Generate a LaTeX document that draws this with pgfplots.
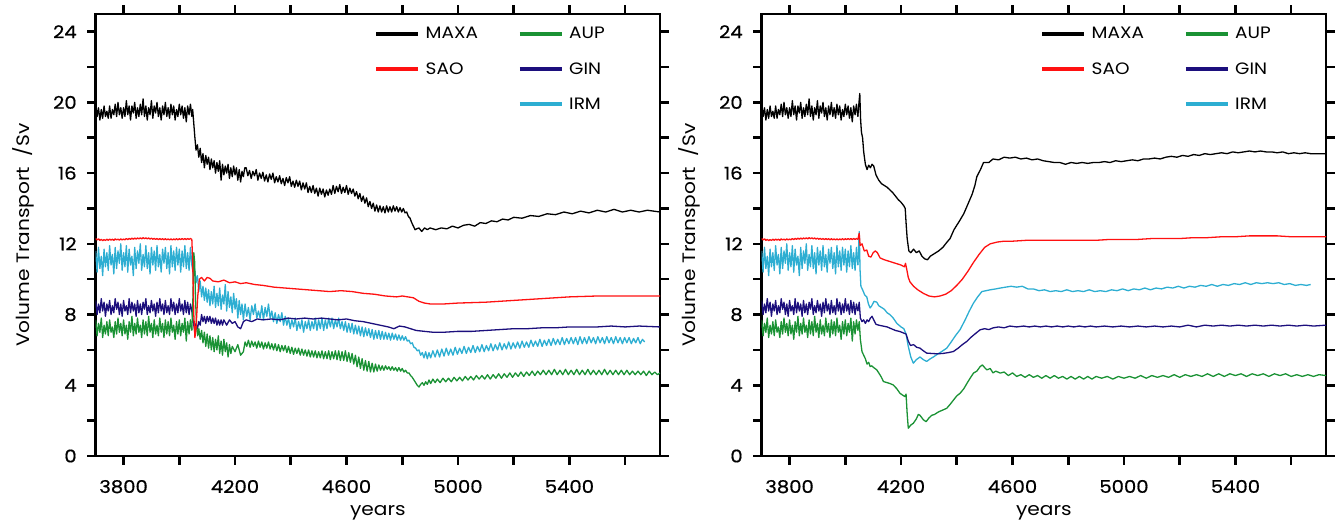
\documentclass[border=0pt]{standalone}
\usepackage{fontspec}
\setmainfont{Poppins}[FakeStretch=1.12]
\newfontfamily\tickfont{Poppins}[FakeStretch=1.12, FakeBold=0.6]
\usepackage{pgfplots}
\usepackage{pgfplotstable}
\pgfplotsset{compat=1.18}
\definecolor{cmaxa}{RGB}{0,0,0}
\definecolor{csao}{RGB}{255,17,17}
\definecolor{caup}{RGB}{26,146,52}
\definecolor{cgin}{RGB}{28,15,125}
\definecolor{cirm}{RGB}{45,174,210}

% common control period (identical in both panels)
\pgfplotstableread{
year maxa sao irm gin aup
3700 19.9 12.30 11.6 8.8 7.7
3705 19.2 12.22 10.4 8.0 6.8
3710 19.7 12.28 11.8 8.6 7.5
3715 19.0 12.20 10.6 8.1 7.0
3720 19.6 12.25 11.3 8.9 7.8
3725 19.1 12.18 10.2 8.2 6.7
3730 19.8 12.24 11.7 8.7 7.4
3735 19.2 12.19 10.7 7.9 6.9
3740 19.5 12.26 11.5 8.6 7.6
3745 19.1 12.20 10.5 8.2 6.8
3750 19.8 12.27 11.9 8.8 7.7
3755 19.1 12.21 10.8 8.0 7.0
3760 19.6 12.26 11.4 8.5 7.3
3765 19.3 12.20 10.3 8.1 6.7
3770 19.9 12.28 11.8 8.9 7.6
3775 19.2 12.22 10.6 8.3 6.9
3780 20.0 12.27 11.6 8.7 7.8
3785 19.3 12.21 10.9 8.0 7.0
3790 19.7 12.28 12.0 8.6 7.5
3795 19.1 12.22 10.5 7.9 6.8
3800 19.7 12.27 11.5 8.8 7.7
3805 19.2 12.23 10.7 8.2 6.9
3810 20.1 12.30 11.9 8.5 7.4
3815 19.3 12.24 10.4 8.0 6.6
3820 19.8 12.31 11.7 8.9 7.6
3825 19.0 12.25 10.8 8.1 7.0
3830 19.8 12.32 11.3 8.7 7.9
3835 19.4 12.26 10.2 8.2 6.8
3840 20.0 12.33 11.8 8.6 7.5
3845 19.1 12.27 10.6 7.9 6.9
3850 19.7 12.33 11.6 8.8 7.8
3855 19.2 12.28 10.9 8.1 7.0
3860 19.9 12.34 12.0 8.6 7.4
3865 19.3 12.28 10.5 8.0 6.7
3870 20.2 12.35 11.4 8.7 7.7
3875 19.2 12.29 10.7 8.3 6.9
3880 19.8 12.34 11.9 8.9 7.6
3885 19.0 12.28 10.6 8.0 6.8
3890 19.7 12.33 11.5 8.5 7.9
3895 19.3 12.27 10.3 8.1 7.0
3900 20.1 12.32 11.8 8.8 7.5
3905 19.1 12.26 10.8 8.2 6.7
3910 19.8 12.31 11.6 8.6 7.7
3915 19.4 12.25 10.5 7.9 6.9
3920 20.0 12.30 11.9 8.7 7.4
3925 19.2 12.24 10.7 8.1 6.8
3930 19.7 12.30 11.4 8.9 7.8
3935 19.0 12.24 10.4 8.2 7.0
3940 19.8 12.29 11.7 8.6 7.5
3945 19.3 12.23 10.9 8.0 6.7
3950 20.0 12.29 11.8 8.8 7.7
3955 19.2 12.23 10.6 8.1 6.9
3960 19.7 12.28 11.5 8.5 7.6
3965 19.1 12.22 10.3 8.0 6.8
3970 19.9 12.28 11.9 8.9 7.8
3975 19.3 12.22 10.7 8.2 7.0
3980 19.8 12.28 11.6 8.7 7.4
3985 19.0 12.23 10.5 8.0 6.6
3990 19.6 12.29 11.8 8.6 7.6
3995 19.2 12.23 10.8 8.1 6.9
4000 19.9 12.29 11.7 8.9 7.7
4005 19.3 12.24 10.4 8.2 6.8
4010 19.8 12.30 11.6 8.6 7.5
4015 19.1 12.24 10.7 8.0 7.0
4020 19.7 12.30 11.9 8.8 7.8
4025 18.9 12.24 10.6 8.1 6.5
4030 19.8 12.30 11.5 8.7 7.6
4035 19.3 12.25 10.5 8.0 6.9
4040 19.9 12.30 11.8 8.6 7.7
4045 19.2 12.25 10.8 8.2 7.1
}\pre

% ---------------- left panel, after 4045 ----------------
\pgfplotstableread{
x y
4045 19.2
4048 19.6
4052 18.8
4056 18.0
4060 17.3
4065 17.6
4070 16.9
4075 17.4
4080 16.6
4085 17.1
4090 16.3
4095 17.0
4100 16.5
4105 16.9
4110 16.2
4115 16.8
4120 16.3
4125 16.7
4130 16.0
4135 16.6
4140 16.1
4145 16.7
4150 15.6
4155 16.5
4160 15.9
4165 16.4
4170 16.0
4175 16.5
4180 15.7
4185 16.3
4190 15.8
4195 16.4
4200 15.9
4205 16.3
4210 15.6
4215 16.2
4220 15.5
4225 16.1
4230 15.8
4235 16.3
4240 16.3
4246 15.85
4252 16.15
4258 15.7
4264 16.1
4270 15.85
4276 16.2
4282 15.6
4288 16.0
4294 15.7
4300 16.05
4306 15.55
4312 15.9
4318 15.5
4324 15.95
4330 15.65
4336 16.0
4342 15.45
4348 15.8
4354 15.5
4360 15.85
4366 15.4
4372 15.7
4378 15.3
4384 15.75
4390 15.45
4396 15.8
4402 15.25
4408 15.55
4414 15.2
4420 15.6
4426 15.25
4432 15.55
4438 15.05
4444 15.45
4450 15.1
4456 15.45
4462 14.9
4468 15.25
4474 14.9
4480 15.3
4486 14.85
4492 15.15
4498 14.7
4504 15.15
4510 14.8
4516 15.1
4522 14.65
4528 15.05
4534 14.75
4540 15.1
4546 14.8
4552 15.3
4558 14.85
4564 15.25
4570 14.95
4576 15.35
4582 14.85
4588 15.2
4594 14.9
4600 15.3
4606 14.8
4612 15.15
4618 14.85
4624 15.1
4630 14.7
4636 14.95
4642 14.55
4648 14.85
4654 14.4
4660 14.7
4666 14.3
4672 14.6
4678 14.1
4684 14.4
4690 14.0
4696 14.3
4702 13.85
4708 14.2
4714 13.8
4720 14.15
4726 13.8
4732 14.1
4738 13.75
4744 14.15
4750 13.8
4756 14.1
4762 13.8
4768 14.15
4774 13.85
4780 14.1
4786 13.8
4792 14.05
4798 13.8
4804 14.0
4810 13.75
4816 13.8
4822 13.55
4828 13.45
4834 13.2
4840 13.0
4846 12.8
4852 12.85
4860 12.9
4870 12.7
4880 12.9
4890 12.8
4900 12.9
4920 12.8
4940 12.9
4960 12.85
4980 13.0
5000 12.9
5020 13.05
5040 13.1
5060 13.0
5080 13.2
5100 13.15
5120 13.3
5140 13.25
5160 13.4
5180 13.35
5200 13.5
5230 13.45
5260 13.6
5290 13.55
5320 13.7
5350 13.65
5380 13.8
5410 13.7
5440 13.85
5470 13.75
5500 13.9
5530 13.8
5560 13.95
5590 13.8
5620 13.9
5650 13.8
5680 13.9
5725 13.8
}\LmaxA

\pgfplotstableread{
x y
4045 12.25
4048 11.0
4052 8.0
4056 6.7
4060 7.2
4066 9.0
4072 10.0
4080 10.1
4090 9.9
4100 10.1
4110 10.05
4120 9.9
4140 9.85
4160 9.95
4180 9.8
4200 9.85
4220 9.75
4240 9.8
4270 9.7
4300 9.65
4340 9.55
4380 9.5
4420 9.45
4460 9.4
4500 9.35
4540 9.3
4580 9.35
4620 9.3
4660 9.2
4700 9.15
4740 9.05
4780 9.0
4800 9.05
4820 9.0
4840 8.95
4860 8.75
4880 8.65
4900 8.6
4950 8.6
5000 8.65
5100 8.7
5200 8.8
5300 8.9
5400 9.0
5500 9.05
5600 9.05
5725 9.05
}\LsaO

\pgfplotstableread{
x y
4045 10.8
4050 10.3
4055 10.6
4060 9.8
4065 10.2
4070 9.3
4075 9.9
4080 9.0
4085 9.6
4090 8.8
4095 9.5
4100 8.7
4105 9.4
4110 8.5
4115 9.3
4120 8.6
4125 9.6
4130 8.4
4135 9.2
4140 8.5
4145 9.5
4150 8.3
4155 9.1
4160 8.6
4165 9.7
4170 8.2
4175 9.3
4180 8.4
4185 9.0
4190 8.1
4195 9.2
4200 8.3
4205 8.9
4210 7.8
4215 8.8
4220 8.0
4225 8.6
4230 7.7
4236 8.6
4242 7.9
4248 8.4
4254 7.7
4260 8.5
4266 8.0
4272 8.6
4278 7.8
4284 8.2
4290 7.8
4296 8.5
4302 7.7
4308 8.4
4314 7.9
4320 8.6
4326 7.8
4332 8.2
4338 7.6
4344 8.1
4350 7.5
4356 8.0
4362 7.6
4368 8.1
4374 7.4
4380 7.9
4386 7.4
4392 7.8
4398 7.2
4404 7.7
4410 7.3
4416 7.8
4422 7.1
4428 7.6
4434 7.2
4440 7.7
4446 7.0
4452 7.6
4458 7.2
4464 7.7
4470 7.1
4476 7.6
4482 7.2
4488 7.8
4494 7.1
4500 7.7
4506 7.2
4512 7.8
4518 7.1
4524 7.7
4530 7.2
4536 7.8
4542 7.3
4548 7.8
4554 7.2
4560 7.7
4566 7.3
4572 7.8
4578 7.2
4584 7.6
4590 7.1
4596 7.6
4602 7.0
4608 7.5
4614 7.0
4620 7.5
4626 6.9
4632 7.4
4638 6.9
4644 7.35
4650 6.8
4656 7.3
4662 6.75
4668 7.25
4674 6.8
4680 7.2
4686 6.7
4692 7.15
4698 6.6
4704 7.1
4710 6.65
4716 7.1
4722 6.6
4728 7.05
4734 6.6
4740 7.0
4746 6.6
4752 6.95
4758 6.55
4764 6.95
4770 6.6
4776 6.9
4782 6.55
4788 6.85
4794 6.55
4800 6.8
4806 6.55
4812 6.75
4818 6.5
4824 6.55
4830 6.35
4836 6.4
4842 6.15
4848 6.1
4854 5.95
4860 6.0
4866 5.7
4872 5.85
4878 5.55
4884 5.9
4890 5.5
4896 5.85
4902 5.55
4910 5.95
4918 5.6
4926 6.0
4934 5.6
4942 6.05
4950 5.65
4958 6.1
4966 5.7
4974 6.05
4982 5.7
4990 6.15
4998 5.75
5006 6.1
5014 5.8
5022 6.2
5030 5.8
5038 6.15
5046 5.85
5054 6.25
5062 5.85
5070 6.2
5078 5.9
5086 6.3
5094 5.9
5102 6.25
5110 5.95
5118 6.35
5126 5.95
5134 6.3
5142 6.0
5150 6.4
5158 6.0
5166 6.35
5174 6.05
5182 6.45
5190 6.05
5198 6.4
5206 6.1
5214 6.45
5222 6.1
5230 6.5
5238 6.15
5246 6.45
5254 6.15
5262 6.55
5270 6.2
5278 6.5
5286 6.2
5294 6.6
5302 6.2
5310 6.55
5318 6.25
5326 6.6
5334 6.25
5342 6.65
5350 6.3
5358 6.6
5366 6.3
5374 6.7
5382 6.3
5390 6.65
5398 6.35
5406 6.7
5414 6.35
5422 6.7
5430 6.3
5438 6.75
5446 6.35
5454 6.7
5462 6.35
5470 6.75
5478 6.4
5486 6.7
5494 6.35
5502 6.75
5510 6.4
5518 6.7
5526 6.35
5534 6.75
5542 6.4
5550 6.7
5558 6.35
5566 6.75
5574 6.4
5582 6.7
5590 6.35
5598 6.7
5606 6.4
5614 6.7
5622 6.35
5630 6.65
5638 6.4
5646 6.7
5654 6.35
5662 6.6
5670 6.45
}\LirM

\pgfplotstableread{
x y
4045 8.2
4050 7.6
4055 7.1
4060 7.5
4065 7.2
4070 7.6
4075 7.4
4080 8.0
4085 7.6
4090 7.9
4095 7.5
4100 7.9
4105 7.6
4110 7.9
4115 7.5
4120 7.8
4125 7.5
4130 7.8
4135 7.4
4140 7.7
4145 7.4
4150 7.7
4155 7.4
4160 7.7
4170 7.4
4180 7.7
4190 7.5
4200 7.6
4210 7.3
4220 7.2
4230 7.6
4240 7.7
4260 7.6
4280 7.75
4300 7.7
4330 7.75
4360 7.7
4390 7.8
4420 7.75
4450 7.8
4480 7.75
4510 7.8
4540 7.75
4570 7.7
4600 7.75
4630 7.65
4660 7.6
4690 7.5
4720 7.4
4750 7.3
4770 7.2
4790 7.35
4810 7.3
4830 7.2
4850 7.1
4880 7.05
4910 7.0
4950 7.0
5000 7.05
5050 7.05
5100 7.1
5150 7.15
5200 7.2
5250 7.2
5300 7.25
5350 7.25
5400 7.3
5450 7.3
5500 7.3
5550 7.35
5600 7.3
5650 7.35
5725 7.3
}\LgiN

\pgfplotstableread{
x y
4045 7.1
4049 9.0
4052 11.5
4055 11.0
4058 9.0
4062 7.3
4066 6.8
4070 7.2
4075 6.6
4080 7.1
4085 6.4
4090 7.0
4095 6.2
4100 6.9
4105 6.1
4110 6.8
4115 6.0
4120 6.7
4125 5.9
4130 6.6
4135 6.0
4140 6.8
4145 5.8
4150 6.5
4155 5.7
4160 6.6
4165 5.9
4170 6.4
4175 5.6
4180 6.3
4185 5.8
4190 6.2
4200 5.9
4210 6.3
4220 5.7
4230 5.9
4236 6.45
4242 6.2
4248 6.55
4254 6.15
4260 6.5
4266 6.2
4272 6.45
4278 6.1
4284 6.5
4290 6.15
4296 6.45
4302 6.05
4308 6.4
4314 6.1
4320 6.45
4326 6.05
4332 6.35
4338 6.0
4344 6.35
4350 5.95
4356 6.3
4362 5.9
4368 6.25
4374 5.95
4380 6.25
4386 5.85
4392 6.2
4398 5.8
4404 6.15
4410 5.75
4416 6.1
4422 5.8
4428 6.1
4434 5.7
4440 6.05
4446 5.7
4452 6.0
4458 5.65
4464 6.0
4470 5.6
4476 5.95
4482 5.6
4488 5.95
4494 5.55
4500 5.9
4506 5.55
4512 5.95
4518 5.5
4524 5.9
4530 5.5
4536 5.95
4542 5.45
4548 5.9
4554 5.5
4560 5.95
4566 5.45
4572 5.95
4578 5.4
4584 5.9
4590 5.4
4596 5.95
4602 5.35
4608 5.85
4614 5.3
4620 5.8
4626 5.2
4632 5.7
4638 5.05
4644 5.6
4650 4.95
4656 5.5
4662 4.85
4668 5.4
4674 4.8
4680 5.35
4686 4.75
4692 5.25
4698 4.75
4704 5.2
4710 4.8
4716 5.15
4722 4.85
4728 5.1
4734 4.85
4740 5.1
4746 4.9
4752 5.05
4758 4.85
4764 5.05
4770 4.85
4776 5.0
4782 4.8
4788 5.0
4794 4.8
4800 4.95
4806 4.75
4812 4.85
4818 4.7
4824 4.7
4830 4.55
4836 4.45
4842 4.3
4848 4.15
4854 4.0
4860 3.9
4866 4.05
4872 4.15
4878 4.0
4884 4.2
4890 4.05
4896 4.3
4902 4.1
4910 4.35
4918 4.15
4926 4.35
4936 4.15
4946 4.4
4956 4.2
4966 4.4
4976 4.2
4986 4.45
4996 4.25
5006 4.45
5016 4.25
5026 4.5
5036 4.3
5046 4.5
5056 4.3
5066 4.55
5076 4.35
5086 4.55
5096 4.35
5106 4.6
5116 4.35
5126 4.6
5136 4.4
5146 4.65
5156 4.4
5166 4.65
5176 4.45
5186 4.7
5196 4.45
5206 4.7
5216 4.5
5226 4.75
5236 4.5
5246 4.75
5256 4.55
5266 4.8
5276 4.55
5286 4.8
5296 4.6
5306 4.85
5316 4.6
5326 4.85
5336 4.6
5346 4.9
5356 4.6
5366 4.85
5376 4.6
5386 4.9
5396 4.6
5406 4.85
5416 4.6
5426 4.9
5436 4.6
5446 4.85
5456 4.6
5466 4.9
5476 4.6
5486 4.85
5496 4.6
5506 4.85
5516 4.6
5526 4.9
5536 4.6
5546 4.85
5556 4.6
5566 4.85
5576 4.6
5586 4.85
5596 4.6
5606 4.85
5616 4.6
5626 4.8
5636 4.6
5646 4.8
5656 4.6
5666 4.8
5676 4.55
5686 4.8
5696 4.6
5706 4.75
5716 4.6
5725 4.7
}\LauP

% ---------------- right panel, after 4045 ----------------
\pgfplotstableread{
x y
4045 19.2
4048 19.8
4052 20.5
4055 19.0
4058 18.3
4062 18.0
4066 17.2
4072 16.5
4078 16.2
4084 16.45
4090 16.3
4096 16.5
4102 16.4
4110 15.9
4120 15.6
4130 15.4
4140 15.3
4150 15.2
4160 15.05
4170 14.9
4180 14.7
4190 14.5
4200 14.35
4210 14.15
4215 14.0
4218 13.2
4222 12.3
4228 11.6
4235 11.5
4245 11.7
4255 11.5
4265 11.6
4275 11.3
4285 11.15
4295 11.1
4305 11.3
4315 11.4
4325 11.5
4335 11.6
4350 11.8
4365 12.1
4376 12.3
4390 12.8
4410 13.3
4425 13.7
4436 14.1
4455 14.8
4465 15.3
4472 15.8
4485 16.2
4496 16.6
4515 16.6
4530 16.8
4550 16.75
4570 16.9
4590 16.85
4610 16.9
4630 16.8
4650 16.85
4670 16.75
4690 16.8
4710 16.7
4730 16.65
4750 16.6
4770 16.6
4790 16.5
4810 16.6
4830 16.55
4850 16.6
4870 16.55
4890 16.6
4910 16.6
4930 16.65
4950 16.6
4970 16.7
4990 16.65
5010 16.7
5030 16.75
5050 16.7
5070 16.8
5090 16.8
5110 16.85
5130 16.8
5150 16.9
5170 16.95
5190 16.9
5210 17.0
5230 16.95
5250 17.05
5270 17.0
5290 17.1
5310 17.05
5330 17.1
5350 17.15
5370 17.1
5390 17.2
5410 17.15
5430 17.2
5450 17.25
5470 17.2
5490 17.25
5510 17.2
5530 17.2
5550 17.15
5570 17.2
5590 17.1
5610 17.15
5630 17.1
5650 17.15
5670 17.1
5690 17.1
5725 17.1
}\RmaxA

\pgfplotstableread{
x y
4045 12.25
4050 12.6
4053 11.9
4060 12.0
4068 11.6
4077 11.65
4084 11.3
4092 11.25
4100 11.5
4108 11.6
4115 11.5
4125 11.2
4140 11.1
4160 11.0
4180 10.9
4200 10.8
4212 10.7
4216 10.9
4220 10.6
4226 10.1
4232 9.85
4245 9.6
4260 9.4
4280 9.2
4300 9.05
4320 9.0
4340 9.05
4360 9.15
4380 9.35
4400 9.65
4420 10.0
4440 10.45
4460 10.95
4480 11.4
4500 11.8
4520 12.0
4545 12.1
4570 12.15
4600 12.15
4650 12.2
4700 12.2
4750 12.2
4800 12.2
4850 12.2
4900 12.2
4950 12.25
5000 12.25
5050 12.25
5100 12.3
5150 12.3
5200 12.3
5250 12.35
5300 12.35
5350 12.4
5400 12.4
5450 12.45
5500 12.45
5550 12.45
5600 12.4
5650 12.4
5725 12.4
}\RsaO

\pgfplotstableread{
x y
4045 10.8
4050 12.7
4053 10.5
4056 9.6
4062 9.4
4070 9.1
4077 9.0
4083 8.6
4089 8.37
4095 8.5
4103 8.75
4113 8.7
4120 8.5
4130 8.4
4140 8.3
4150 8.1
4160 8.0
4172 7.8
4185 7.5
4200 7.3
4210 7.2
4218 6.9
4226 6.2
4235 5.6
4244 5.25
4255 5.45
4268 5.6
4280 5.45
4292 5.35
4305 5.5
4316 5.6
4330 5.75
4345 5.9
4364 6.1
4380 6.45
4395 6.8
4412 7.15
4430 7.7
4445 8.2
4460 8.65
4475 9.0
4490 9.3
4505 9.35
4520 9.4
4540 9.45
4556 9.5
4575 9.55
4595 9.6
4615 9.55
4635 9.6
4655 9.45
4675 9.45
4695 9.35
4715 9.4
4735 9.3
4755 9.35
4775 9.3
4795 9.4
4815 9.3
4835 9.35
4855 9.3
4875 9.4
4895 9.3
4915 9.35
4935 9.3
4955 9.4
4975 9.35
4995 9.45
5015 9.35
5035 9.45
5055 9.4
5075 9.5
5095 9.4
5115 9.5
5135 9.45
5155 9.55
5175 9.5
5195 9.6
5215 9.5
5235 9.6
5255 9.55
5275 9.65
5295 9.6
5315 9.7
5335 9.6
5355 9.7
5375 9.65
5395 9.75
5415 9.7
5435 9.8
5455 9.7
5475 9.8
5495 9.75
5515 9.8
5535 9.75
5555 9.8
5575 9.7
5595 9.75
5615 9.65
5635 9.7
5655 9.65
5670 9.7
}\RirM

\pgfplotstableread{
x y
4045 8.2
4050 8.7
4054 7.8
4060 7.6
4066 7.7
4072 7.5
4078 7.7
4084 7.6
4090 7.8
4096 7.9
4102 7.7
4110 7.45
4120 7.4
4135 7.35
4150 7.3
4165 7.2
4180 7.1
4196 7.04
4210 6.95
4218 6.9
4226 6.5
4234 6.25
4245 6.3
4256 6.15
4268 6.1
4280 5.95
4292 5.82
4310 5.8
4330 5.78
4350 5.8
4370 5.85
4388 5.91
4405 6.1
4420 6.3
4436 6.48
4450 6.7
4465 6.9
4484 7.14
4500 7.2
4515 7.15
4531 7.25
4550 7.3
4570 7.25
4590 7.35
4615 7.3
4640 7.35
4660 7.3
4680 7.35
4700 7.3
4720 7.35
4740 7.3
4760 7.35
4780 7.3
4800 7.35
4820 7.3
4840 7.35
4860 7.3
4880 7.35
4900 7.3
4930 7.35
4960 7.3
4990 7.35
5020 7.3
5050 7.35
5080 7.3
5110 7.35
5140 7.3
5170 7.35
5200 7.3
5230 7.4
5260 7.3
5290 7.4
5320 7.35
5350 7.4
5380 7.35
5410 7.4
5440 7.35
5470 7.4
5500 7.35
5530 7.4
5560 7.35
5590 7.4
5620 7.35
5650 7.4
5680 7.35
5725 7.4
}\RgiN

\pgfplotstableread{
x y
4045 7.1
4050 7.6
4054 6.6
4060 5.9
4066 5.7
4072 5.5
4078 5.2
4084 5.3
4089 5.06
4095 5.1
4102 5.0
4113 4.87
4120 4.7
4128 4.5
4137 4.21
4150 4.15
4160 4.1
4172 4.02
4185 3.8
4196 3.55
4205 3.45
4214 3.36
4218 3.5
4222 2.4
4226 1.57
4235 1.75
4244 1.85
4255 2.1
4262 2.35
4268 2.3
4280 2.05
4290 1.94
4300 2.15
4310 2.3
4320 2.35
4335 2.5
4350 2.6
4364 2.7
4375 2.9
4390 3.2
4400 3.4
4412 3.55
4425 3.8
4440 4.2
4452 4.5
4460 4.69
4472 4.8
4484 5.06
4492 5.15
4500 5.0
4508 4.87
4520 4.95
4530 4.7
4540 4.8
4556 4.69
4570 4.75
4585 4.55
4600 4.7
4615 4.5
4630 4.6
4645 4.45
4660 4.6
4675 4.45
4690 4.55
4705 4.4
4720 4.55
4735 4.4
4750 4.55
4765 4.4
4780 4.5
4795 4.35
4810 4.5
4825 4.35
4840 4.5
4855 4.35
4870 4.5
4885 4.35
4900 4.5
4920 4.4
4940 4.5
4960 4.35
4980 4.5
5000 4.4
5020 4.5
5040 4.4
5060 4.55
5080 4.4
5100 4.55
5120 4.45
5140 4.55
5160 4.45
5180 4.6
5200 4.45
5220 4.6
5240 4.5
5260 4.6
5280 4.5
5300 4.65
5320 4.5
5340 4.65
5360 4.5
5380 4.65
5400 4.55
5420 4.65
5440 4.5
5460 4.65
5480 4.55
5500 4.65
5520 4.5
5540 4.65
5560 4.55
5580 4.65
5600 4.5
5620 4.6
5640 4.5
5660 4.6
5680 4.5
5700 4.6
5725 4.55
}\RauP

\pgfplotsset{
  panel/.style={
    scale only axis, width=564.3pt, height=442pt,
    anchor=south west,
    xmin=3700, xmax=5725, ymin=0, ymax=25,
    xtick={3800,4200,4600,5000,5400},
    minor xtick={4000,4400,4800,5200,5600},
    ytick={0,4,...,24},
    minor ytick={2,6,...,22},
    tick align=outside,
    major tick length=8.5pt, minor tick length=8.5pt,
    axis line style={line width=2.6pt},
    tick style={line width=2.6pt, black},
    /pgf/number format/assume math mode=true,
    /pgf/number format/set thousands separator={},
    tick label style={font=\tickfont\fontsize{17.5}{20}\selectfont},
    xticklabel style={yshift=-12pt},
    yticklabel style={xshift=-7pt},
    label style={font=\fontsize{18}{22}\selectfont},
    xlabel={years},
    ylabel={Volume Transport\ \ /Sv},
    x label style={at={(axis description cs:0.5,-0.129)}, anchor=center},
    y label style={at={(axis description cs:-0.1276,0.5)}, anchor=center},
    legend columns=2,
    legend cell align=left,
    legend style={draw=none, fill=none, at={(0.4932,0.97)}, anchor=north west,
      inner sep=0pt, row sep=22pt,
      nodes={inner sep=0pt, font=\fontsize{16.5}{20}\selectfont},
      /tikz/every odd column/.append style={column sep=5pt},
      /tikz/every even column/.append style={column sep=0pt}},
    legend image code/.code={\draw[line width=4.5pt] (0pt,0pt) -- (42pt,0pt);},
  },
  ser/.style={line width=1.3pt, line join=round, forget plot},
}

\begin{document}
\begin{tikzpicture}
\path[use as bounding box] (-95.7pt,-68pt) rectangle (1242.3pt,456pt);

\begin{axis}[panel, at={(0pt,0pt)}]
\addlegendimage{cmaxa}\addlegendentry{\makebox[92pt][l]{MAXA}}
\addlegendimage{caup}\addlegendentry{AUP}
\addlegendimage{csao}\addlegendentry{\makebox[92pt][l]{SAO}}
\addlegendimage{cgin}\addlegendentry{GIN}
\addlegendimage{empty legend}\addlegendentry{}
\addlegendimage{cirm}\addlegendentry{IRM}
\addplot[ser, cirm] table[x=year, y=irm] {\pre};
\addplot[ser, cirm] table[x=x, y=y] {\LirM};
\addplot[ser, cgin] table[x=year, y=gin] {\pre};
\addplot[ser, cgin] table[x=x, y=y] {\LgiN};
\addplot[ser, caup] table[x=year, y=aup] {\pre};
\addplot[ser, caup] table[x=x, y=y] {\LauP};
\addplot[ser, csao] table[x=year, y=sao] {\pre};
\addplot[ser, csao] table[x=x, y=y] {\LsaO};
\addplot[ser, cmaxa] table[x=year, y=maxa] {\pre};
\addplot[ser, cmaxa] table[x=x, y=y] {\LmaxA};
\end{axis}

\begin{axis}[panel, at={(666pt,0pt)}]
\addlegendimage{cmaxa}\addlegendentry{\makebox[92pt][l]{MAXA}}
\addlegendimage{caup}\addlegendentry{AUP}
\addlegendimage{csao}\addlegendentry{\makebox[92pt][l]{SAO}}
\addlegendimage{cgin}\addlegendentry{GIN}
\addlegendimage{empty legend}\addlegendentry{}
\addlegendimage{cirm}\addlegendentry{IRM}
\addplot[ser, cirm] table[x=year, y=irm] {\pre};
\addplot[ser, cirm] table[x=x, y=y] {\RirM};
\addplot[ser, cgin] table[x=year, y=gin] {\pre};
\addplot[ser, cgin] table[x=x, y=y] {\RgiN};
\addplot[ser, caup] table[x=year, y=aup] {\pre};
\addplot[ser, caup] table[x=x, y=y] {\RauP};
\addplot[ser, csao] table[x=year, y=sao] {\pre};
\addplot[ser, csao] table[x=x, y=y] {\RsaO};
\addplot[ser, cmaxa] table[x=year, y=maxa] {\pre};
\addplot[ser, cmaxa] table[x=x, y=y] {\RmaxA};
\end{axis}
\end{tikzpicture}
\end{document}
